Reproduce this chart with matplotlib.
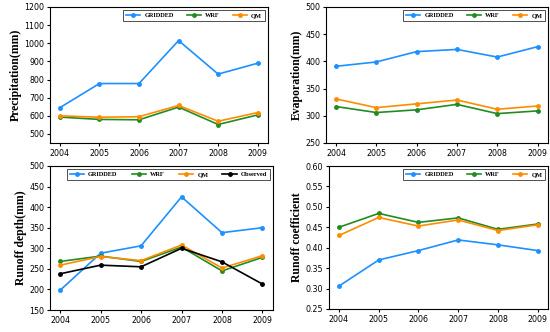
import numpy as np
import matplotlib.pyplot as plt

years = [2004, 2005, 2006, 2007, 2008, 2009]

prec_grid = [645, 778, 778, 1015, 830, 890]
prec_wrf = [593, 580, 578, 648, 552, 605]
prec_qm = [600, 592, 595, 657, 570, 618]

evap_grid = [391, 399, 418, 422, 408, 427]
evap_wrf = [317, 306, 311, 321, 304, 309]
evap_qm = [331, 315, 322, 329, 312, 318]

run_grid = [198, 288, 306, 425, 338, 350]
run_wrf = [268, 281, 268, 303, 245, 278]
run_qm = [259, 280, 270, 308, 252, 282]
run_obs = [238, 259, 255, 300, 267, 213]

coef_grid = [0.306, 0.370, 0.393, 0.419, 0.407, 0.393]
coef_wrf = [0.450, 0.484, 0.462, 0.473, 0.445, 0.458]
coef_qm = [0.430, 0.474, 0.453, 0.468, 0.442, 0.456]

c_grid = '#1e90ff'
c_wrf = '#228b22'
c_qm = '#ff8c00'
c_obs = 'black'

fig = plt.figure(figsize=(5.5, 3.32), dpi=100)
W, H = 550, 332
def box(l, t, r, b):
    return [l / W, 1 - b / H, (r - l) / W, (b - t) / H]

ax1 = fig.add_axes(box(50, 7, 268, 143))
ax2 = fig.add_axes(box(326, 7, 548, 143))
ax3 = fig.add_axes(box(50, 166, 273, 310))
ax4 = fig.add_axes(box(329, 166, 548, 309))

lab_font = dict(family='Liberation Serif', weight='bold', size=8.5)
leg_font = dict(family='Liberation Serif', weight='bold', size=4.6)

def draw(ax, series, ylim, ticks, ylabel, tickfmt=None, ncol=3, colsp=2.0):
    for y, c, name in series:
        ax.plot(years, y, color=c, marker='o', markersize=2.5, linewidth=1.2, label=name)
    ax.set_ylim(*ylim)
    ax.set_yticks(ticks)
    if tickfmt:
        ax.set_yticklabels([tickfmt.format(t) for t in ticks])
    ax.set_xticks(years)
    ax.set_xlim(2003.75, 2009.26)
    ax.tick_params(labelsize=5.7, length=2.5, width=0.8, pad=1.5)
    ax.set_ylabel(ylabel, fontdict=lab_font, labelpad=2)
    for s in ax.spines.values():
        s.set_linewidth(0.8)
    leg = ax.legend(loc='upper right', ncol=ncol, prop=leg_font, frameon=True,
                    fancybox=False, edgecolor='black', handlelength=2.2,
                    handletextpad=0.7, columnspacing=colsp, borderpad=0.5,
                    borderaxespad=0.4)
    leg.get_frame().set_linewidth(0.6)

draw(ax1, [(prec_grid, c_grid, 'GRIDDED'), (prec_wrf, c_wrf, 'WRF'), (prec_qm, c_qm, 'QM')],
     (450, 1200), np.arange(500, 1201, 100), 'Precipitation(mm)')
draw(ax2, [(evap_grid, c_grid, 'GRIDDED'), (evap_wrf, c_wrf, 'WRF'), (evap_qm, c_qm, 'QM')],
     (250, 500), np.arange(250, 501, 50), 'Evaporation(mm)')
draw(ax3, [(run_grid, c_grid, 'GRIDDED'), (run_wrf, c_wrf, 'WRF'), (run_qm, c_qm, 'QM'),
           (run_obs, c_obs, 'Observed')],
     (150, 500), np.arange(150, 501, 50), 'Runoff depth(mm)', ncol=4, colsp=2.2)
draw(ax4, [(coef_grid, c_grid, 'GRIDDED'), (coef_wrf, c_wrf, 'WRF'), (coef_qm, c_qm, 'QM')],
     (0.25, 0.60), np.arange(0.25, 0.601, 0.05), 'Runoff coefficient', tickfmt='{:.2f}')

fig.savefig('out.png', dpi=100)
